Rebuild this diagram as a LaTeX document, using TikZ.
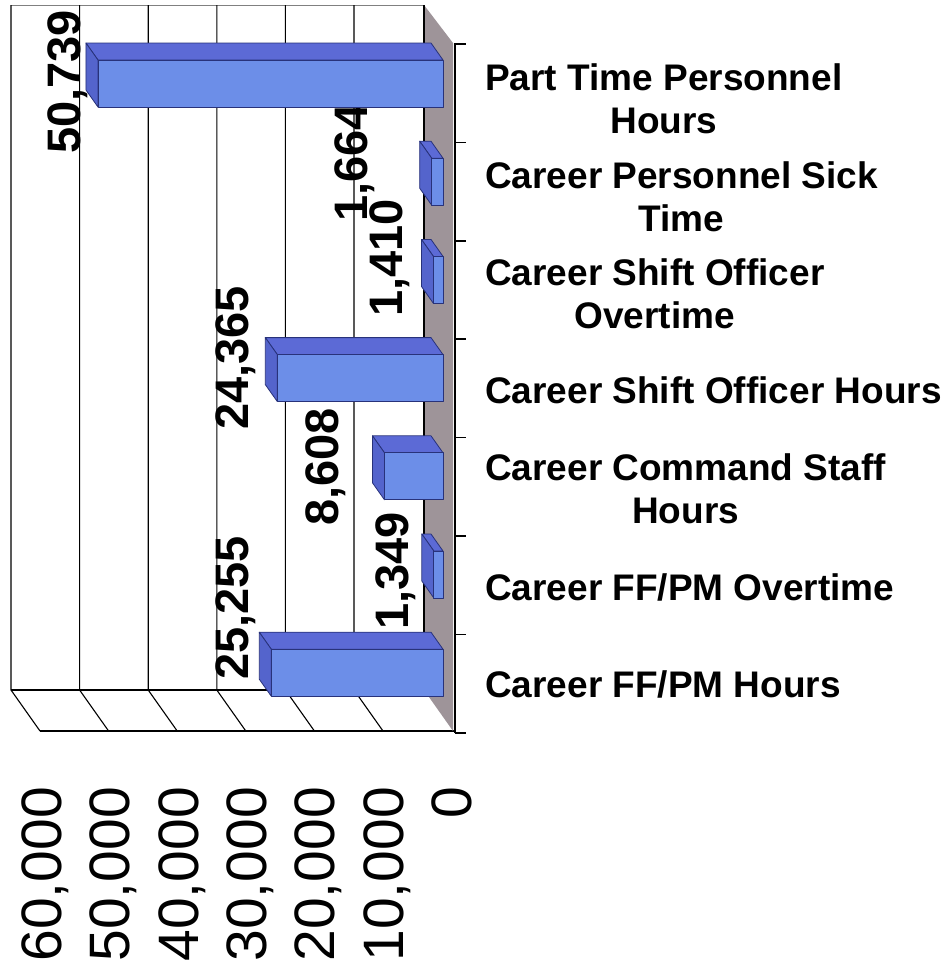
\documentclass[tikz,border=0pt]{standalone}
\usepackage{fontspec}
\setmainfont{Liberation Sans}
\usepackage{tikz}
\usetikzlibrary{positioning, calc}
\definecolor{barfront}{RGB}{108,142,232}
\definecolor{bartop}{RGB}{92,106,214}
\definecolor{barside}{RGB}{84,100,204}
\definecolor{baredge}{RGB}{40,50,122}
\definecolor{wallgray}{RGB}{158,148,153}
\tikzset{gridln/.style={draw, line width=1.1pt}}
\tikzset{barface/.style={draw=baredge, line width=0.8pt, line join=round}}
\tikzset{catlab/.style={anchor=west, inner sep=0pt, align=center, font=\fontsize{37}{43}\selectfont\bfseries}}
\tikzset{vallab/.style={anchor=base, rotate=90, inner sep=0pt, font=\fontsize{47}{50}\selectfont\bfseries}}
\tikzset{axlab/.style={anchor=base east, rotate=90, inner sep=0pt, font=\fontsize{57}{60}\selectfont}}

\begin{document}
\begin{tikzpicture}[x=1pt, y=-1pt]
                \useasboundingbox (0,0) rectangle (952,972);
                %
                \draw[gray, line width=0.8pt] (11,5) -- (424,5);
                \foreach \k in {0,...,5}
                    \draw[gridln] ({11+68.6*\k},5) -- ({11+68.6*\k},690) -- ({40+68.6*\k},731);
                \draw[gridln] (11,690) -- (424,690);
                \draw[gridln] (40,731) -- (455,731);
                %
                \fill[wallgray] (424,5) -- (453,43) -- (453,731) -- (424,690) -- cycle;
                \draw[gridln] (424,5) -- (424,690);
                \draw[line width=1.6pt] (455,43) -- (455,733);
                \foreach \k in {0,...,7}
                    \draw[line width=1.6pt] (455,{44+98.4*\k}) -- (466,{44+98.4*\k});
                %
                \node[vallab] (v1) at (80,82) {50,739};
                \node[vallab] (v2) at (367,163) {1,664};
                \node[vallab] (v3) at (402,258) {1,410};
                \node[vallab] (v4) at (248,358) {24,365};
                \node[vallab] (v5) at (338,467) {8,608};
                \node[vallab] (v6) at (408,571) {1,349};
                \node[vallab] (v7) at (248,608) {25,255};
                %
                % values in thousands, 6.8 units per thousand
                \foreach \v [count=\n from 0] in {50.739,1.664,1.410,24.365,8.608,1.349,25.255} {
                    \pgfmathsetmacro\xl{443-6.8*\v}
                    \pgfmathsetmacro\yt{60+98.2*\n}
                    \pgfmathsetmacro\yb{\yt+47}
                    \filldraw[barface, fill=bartop] (\xl,\yt) -- (443,\yt) -- (431,{\yt-17}) -- ({\xl-12},{\yt-17}) -- cycle;
                    \filldraw[barface, fill=barside] (\xl,\yt) -- ({\xl-12},{\yt-17}) -- ({\xl-12},{\yb-17}) -- (\xl,\yb) -- cycle;
                    \filldraw[barface, fill=barfront] (\xl,\yt) rectangle (443,\yb);
                }
                %
                \node[catlab] (c1) at (485,99) {Part Time Personnel\\Hours};
                \node[catlab] (c2) at (485,196.5) {Career Personnel Sick\\Time};
                \node[catlab] (c3) at (485,294) {Career Shift Officer\\Overtime};
                \node[catlab] (c4) at (485,390.5) {Career Shift Officer Hours};
                \node[catlab] (c5) at (485,489) {Career Command Staff\\Hours};
                \node[catlab] (c6) at (485,587.5) {Career FF/PM Overtime};
                \node[catlab] (c7) at (485,684.5) {Career FF/PM Hours};
                %
                \foreach \t [count=\k from 0] in {{60,000},{50,000},{40,000},{30,000},{20,000},{10,000},0}
                    \node[axlab] (a\k) at ({61.5+68.3*\k},787) {\t};
                %
            \end{tikzpicture}
\end{document}
